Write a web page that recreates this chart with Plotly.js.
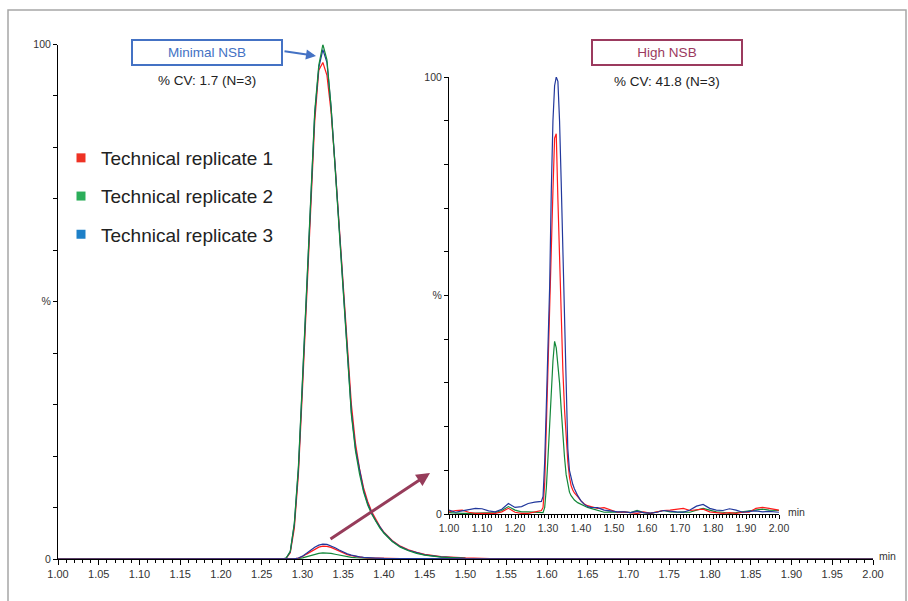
<!DOCTYPE html>
<html>
<head>
<meta charset="utf-8">
<script src="https://cdn.plot.ly/plotly-3.0.1.min.js"></script>
<style>html,body{margin:0;padding:0;background:#fff;}#chart{width:908px;height:601px;}</style>
</head>
<body>
<div id="chart"></div>
<script>
// ---- Main chromatogram (Minimal NSB), % of max ----
const mainX = [1.00,1.275,1.28,1.285,1.29,1.295,1.30,1.305,1.31,1.315,1.32,1.325,1.33,1.335,1.34,1.345,1.35,1.355,1.36,1.365,1.37,1.375,1.38,1.385,1.39,1.395,1.40,1.41,1.42,1.43,1.44,1.45,1.47,1.50,1.55,2.00];
const rep1Main = [0,0,0.15,1.2,6,16.5,33,50,68.5,85,95,96.5,94,87,76.5,65,53,41,30,22.5,17.5,13.8,11.2,9.2,7.6,6.3,5.2,3.6,2.5,1.8,1.3,0.9,0.45,0.2,0,0];
const rep2Main = [0,0,0.2,1.5,7,18,35,52,71,87,96,100,97,88,76,64,51,39,28,21,16.5,13,10.5,8.7,7.2,6,5,3.4,2.3,1.6,1.1,0.75,0.35,0.12,0,0];
const rep3Main = [0,0,0.2,1.4,6.8,17.5,34.5,51.5,70.5,86.5,95.5,99,96.5,88,76.5,64.5,51.5,39.5,28.5,21.5,17,13.3,10.8,8.9,7.4,6.2,5.1,3.5,2.4,1.7,1.2,0.8,0.4,0.15,0,0];

// ---- High NSB traces shown on the main scale (small humps) ----
const humpX = [1.00,1.285,1.29,1.295,1.30,1.305,1.31,1.315,1.32,1.325,1.33,1.335,1.34,1.345,1.35,1.355,1.36,1.365,1.37,1.375,1.38,1.39,1.40,1.42,1.45,1.50,2.00];
const rep1Hump = [0,0,0.04,0.17,0.47,0.95,1.45,1.95,2.3,2.5,2.45,2.25,1.9,1.5,1.15,0.85,0.65,0.48,0.36,0.28,0.22,0.16,0.11,0.06,0.03,0.01,0];
const rep2Hump = [0,0,0.02,0.08,0.22,0.45,0.7,0.92,1.1,1.2,1.18,1.08,0.92,0.74,0.57,0.43,0.33,0.25,0.19,0.15,0.12,0.09,0.06,0.04,0.02,0.01,0];
const rep3Hump = [0,0,0.05,0.2,0.55,1.1,1.7,2.3,2.7,2.9,2.85,2.6,2.2,1.75,1.35,1.0,0.75,0.55,0.42,0.32,0.25,0.18,0.12,0.07,0.04,0.01,0];

// ---- Inset chromatogram (High NSB), % of max ----
const insetX = [1.00,1.02,1.04,1.06,1.08,1.10,1.12,1.14,1.16,1.18,1.20,1.22,1.24,1.26,1.28,
  1.285,1.29,1.295,1.30,1.305,1.31,1.315,1.32,1.325,1.33,1.335,1.34,1.345,1.35,1.355,1.36,1.365,1.37,1.375,1.38,
  1.39,1.40,1.41,1.42,1.43,
  1.45,1.47,1.49,1.51,1.53,1.55,1.57,1.59,1.61,1.63,1.65,1.67,1.69,1.71,1.73,1.75,1.77,1.79,1.81,1.83,1.85,1.87,1.89,1.91,1.93,1.95,1.97,2.00];
const rep1Inset = [0.5,0.8,0.9,0.4,0.15,0.1,0.15,0.15,0.5,1.3,0.4,0.15,0.15,0.5,0.8,
  1.5,7,20,35,48,60,74,86,87,72,57,44,33,24,17,12,8.5,6.5,5.5,4.8,
  4.0,3.0,2.3,1.9,1.7,
  1.3,1.45,0.9,0.4,0.5,0.4,0.15,0.5,0.15,0.5,0.8,0.9,1.1,1.3,0.8,0.9,1.1,0.5,0.4,0.15,0.3,0.15,0.4,0.4,1.3,1.5,1.3,0.9];
const rep2Inset = [0.3,0.15,0.15,0.15,0.15,0.15,0.15,0.3,0.8,1.7,0.9,0.5,0.5,0.4,0.2,
  0.3,1.5,6,13,21,29,35,39.5,38,34,30,24,18,13,9,6.5,5,4.2,3.6,3.2,
  2.6,2.2,1.8,1.5,1.3,
  0.9,0.4,0.5,0.4,0.5,0.3,0.8,0.3,0.15,0.4,0.8,0.5,0.4,0.5,0.4,0.9,1.3,0.9,0.5,0.4,0.15,0.3,0.5,0.8,0.9,1.1,0.9,0.8];
const rep3Inset = [0.9,0.4,0.7,1.0,1.3,1.2,0.7,0.5,1.1,2.4,1.5,1.7,2.4,2.7,2.9,
  4,12,25,36,52,74,90,98,100,99,90,76,61,44,28,15,10,8,6.8,5.8,
  4.2,3.0,2.2,1.7,1.5,
  1.45,0.9,0.7,0.5,0.5,0.3,0.6,0.3,0.2,0.4,0.8,0.6,0.5,0.4,0.9,1.8,2.2,1.3,0.9,0.8,1.2,0.9,0.4,0.6,0.7,0.5,0.6,0.4];

const seriesNames = ['Technical replicate 1','Technical replicate 2','Technical replicate 3'];
const xTicksMain = [1.00,1.05,1.10,1.15,1.20,1.25,1.30,1.35,1.40,1.45,1.50,1.55,1.60,1.65,1.70,1.75,1.80,1.85,1.90,1.95,2.00];
const xTicksInset = [1.00,1.10,1.20,1.30,1.40,1.50,1.60,1.70,1.80,1.90,2.00];
const yTickVals = [0,50,100];
const yTickText = ['0','%','100'];

const lineRed = '#ff1a1a', lineGreen = '#13883a', lineBlue = '#22389c';
const legRed = '#ee3224', legGreen = '#2cae5a', legBlue = '#1e80c8';

const W = 908, H = 601;
const px = v => v / W;
const py = v => (H - v) / H;

function line(x, y, color, xa, ya) {
  return {x: x, y: y, type: 'scatter', mode: 'lines', line: {color: color, width: 1.2},
          xaxis: xa, yaxis: ya, showlegend: false, hoverinfo: 'skip'};
}

const traces = [
  line(mainX, rep1Main, lineRed, 'x', 'y'),
  line(mainX, rep3Main, lineBlue, 'x', 'y'),
  line(mainX, rep2Main, lineGreen, 'x', 'y'),
  line(humpX, rep2Hump, lineGreen, 'x', 'y'),
  line(humpX, rep1Hump, lineRed, 'x', 'y'),
  line(humpX, rep3Hump, lineBlue, 'x', 'y'),
  line(insetX, rep2Inset, lineGreen, 'x2', 'y2'),
  line(insetX, rep1Inset, lineRed, 'x2', 'y2'),
  line(insetX, rep3Inset, lineBlue, 'x2', 'y2')
];
[legRed, legGreen, legBlue].forEach((c, i) => {
  traces.push({x: [null], y: [null], type: 'scatter', mode: 'markers', name: seriesNames[i],
    legendgroup: 'g' + i, marker: {symbol: 'square', size: 9, color: c}, xaxis: 'x', yaxis: 'y'});
});

const axisBase = {showgrid: false, zeroline: false, showline: true, linecolor: '#000', linewidth: 1,
  ticks: 'outside', tickcolor: '#000', tickwidth: 1, fixedrange: true, layer: 'below traces'};

const layout = {
  width: W, height: H,
  margin: {l: 0, r: 0, t: 0, b: 0},
  paper_bgcolor: '#fff', plot_bgcolor: 'rgba(0,0,0,0)',
  font: {family: 'Liberation Sans, Arial, sans-serif', color: '#222'},
  showlegend: true,
  legend: {x: px(61), y: py(139), xanchor: 'left', yanchor: 'top', font: {size: 19, color: '#222'},
    tracegroupgap: 10.5, traceorder: 'grouped', bgcolor: 'rgba(0,0,0,0)', itemclick: false, itemdoubleclick: false},
  xaxis: Object.assign({}, axisBase, {domain: [px(58), px(873)], range: [1, 2], anchor: 'y',
    tickvals: xTicksMain, tickformat: '.2f', ticklen: 5, tickfont: {size: 11, color: '#333'},
    minor: {dtick: 0.01, tick0: 1, ticks: 'outside', ticklen: 3, tickcolor: '#000'}}),
  yaxis: Object.assign({}, axisBase, {domain: [py(559), py(44.5)], range: [0, 100], anchor: 'x',
    tickvals: yTickVals, ticktext: yTickText, ticklen: 4, tickfont: {size: 10.5, color: '#333'},
    minor: {dtick: 10, tick0: 0, ticks: 'outside', ticklen: 4, tickcolor: '#000'}}),
  xaxis2: Object.assign({}, axisBase, {domain: [px(449), px(779)], range: [1, 2], anchor: 'y2',
    tickvals: xTicksInset, tickformat: '.2f', ticklen: 4, tickfont: {size: 10.5, color: '#333'},
    minor: {dtick: 0.01, tick0: 1, ticks: 'outside', ticklen: 2.5, tickcolor: '#000'}}),
  yaxis2: Object.assign({}, axisBase, {domain: [py(514), py(77)], range: [0, 100], anchor: 'x2',
    tickvals: yTickVals, ticktext: yTickText, ticklen: 4, tickfont: {size: 10.5, color: '#333'},
    minor: {dtick: 10, tick0: 0, ticks: 'outside', ticklen: 4, tickcolor: '#000'}}),
  shapes: [
    {type: 'rect', xref: 'paper', yref: 'paper', x0: px(8), x1: px(906), y0: -0.05, y1: py(10),
     line: {color: '#a6a6a6', width: 1.5}, fillcolor: 'rgba(0,0,0,0)', layer: 'below'}
  ],
  annotations: [
    {xref: 'paper', yref: 'paper', x: px(207), y: py(52), xanchor: 'center', yanchor: 'middle',
     text: 'Minimal NSB', showarrow: false,
     font: {size: 13.5, color: '#4472c4'}, bordercolor: '#4472c4', borderwidth: 2, borderpad: 1,
     width: 146, height: 21, bgcolor: '#fff'},
    {xref: 'paper', yref: 'paper', x: px(207), y: py(80), xanchor: 'center', yanchor: 'middle',
     text: '% CV: 1.7 (N=3)', showarrow: false, font: {size: 13.5, color: '#222'}},
    {xref: 'paper', yref: 'paper', x: px(316), y: py(56), ax: -33, ay: -5, axref: 'pixel', ayref: 'pixel',
     text: '', showarrow: true, arrowhead: 2, arrowsize: 1, arrowwidth: 2, arrowcolor: '#4472c4'},
    {xref: 'paper', yref: 'paper', x: px(667), y: py(52.5), xanchor: 'center', yanchor: 'middle',
     text: 'High NSB', showarrow: false,
     font: {size: 13.5, color: '#9b3a5e'}, bordercolor: '#9b3a5e', borderwidth: 2, borderpad: 1,
     width: 146, height: 21, bgcolor: '#fff'},
    {xref: 'paper', yref: 'paper', x: px(667), y: py(81), xanchor: 'center', yanchor: 'middle',
     text: '% CV: 41.8 (N=3)', showarrow: false, font: {size: 13.5, color: '#222'}},
    {xref: 'paper', yref: 'paper', x: px(430), y: py(473), ax: -101, ay: 67, axref: 'pixel', ayref: 'pixel',
     text: '', showarrow: true, arrowhead: 2, arrowsize: 0.9, arrowwidth: 3, arrowcolor: '#963c5a'},
    {xref: 'paper', yref: 'paper', x: px(877), y: py(556), xanchor: 'left', yanchor: 'middle',
     text: 'min', showarrow: false, font: {size: 10.5, color: '#333'}},
    {xref: 'paper', yref: 'paper', x: px(786), y: py(512), xanchor: 'left', yanchor: 'middle',
     text: 'min', showarrow: false, font: {size: 10.5, color: '#333'}}
  ]
};

Plotly.newPlot('chart', traces, layout, {displayModeBar: false, staticPlot: true});
</script>
</body>
</html>
